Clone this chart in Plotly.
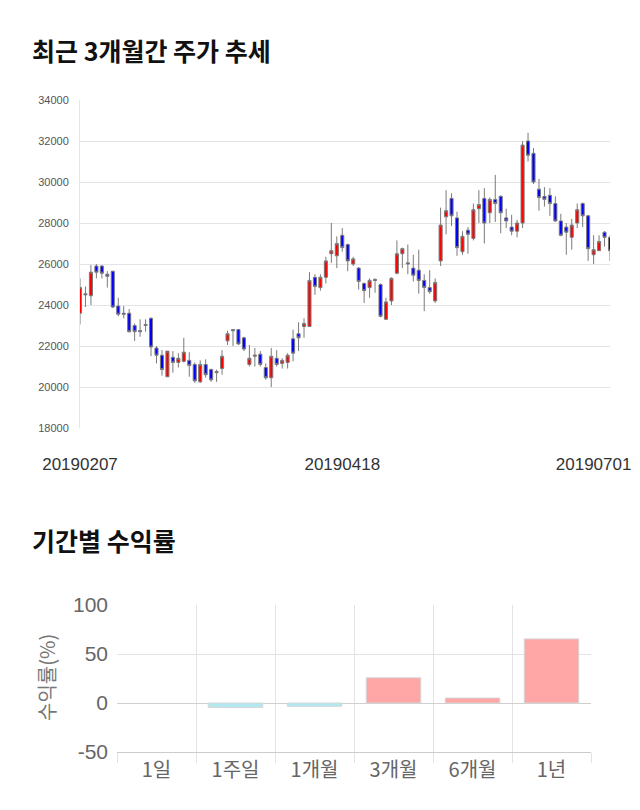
import plotly.graph_objects as go

# ---- candlestick data (trading-day index order) ----
opens = [23600, 24550, 24450, 25900, 25900, 25500, 25650, 23950, 23600, 23600,
         23000, 22750, 23050, 23350, 21900, 21550, 20500, 21450, 21200, 21250,
         21300, 21100, 20250, 21100, 20850, 20700, 20900, 22250, 22800, 22800,
         22400, 21100, 21500, 21600, 20950, 20450, 21400, 21150, 21200, 22350,
         22600, 22950, 22950, 25350, 24850, 25350, 26500, 26400, 27400, 26950,
         26000, 25800, 25050, 24850, 25250, 25000, 23300, 24200, 25550, 26500,
         26000, 25800, 25700, 25200, 24850, 24200, 26150, 28300, 29200, 28250,
         26600, 27650, 27250, 28700, 29200, 28500, 29150, 29300, 28250, 27800,
         27600, 28000, 32000, 31400, 29650, 29300, 29350, 28950, 28100, 27800,
         27300, 28000, 28950, 28350, 26450, 26650, 27550, 27300]
highs = [25300, 24900, 25950, 26000, 25950, 25650, 25650, 24350, 23950, 23800,
         23100, 23300, 23300, 23400, 22000, 21800, 21750, 21750, 21650, 22400,
         21700, 21200, 21300, 21350, 20900, 20850, 21800, 22750, 22800, 22800,
         22450, 22050, 21900, 21750, 21150, 21900, 21800, 21400, 21650, 22800,
         23150, 23350, 25600, 25500, 25500, 26350, 28000, 27350, 27750, 27000,
         26350, 25850, 25100, 25300, 25300, 25050, 24350, 25350, 27150, 26800,
         26950, 26450, 26700, 25500, 25700, 25300, 28750, 29600, 29450, 28550,
         27600, 27800, 28950, 29600, 29700, 29250, 30350, 29350, 28700, 28400,
         28150, 32000, 32400, 31650, 30150, 29750, 29700, 29300, 28450, 28000,
         28200, 28950, 29000, 28400, 27400, 27400, 27600, 27400]
lows = [23050, 23900, 24000, 25300, 25300, 24850, 23850, 23450, 23350, 22650,
        22250, 22450, 22700, 21500, 21150, 20550, 20500, 20700, 20950, 21200,
        20500, 20200, 20200, 20450, 20250, 20250, 20600, 22050, 22000, 22050,
        21750, 21000, 21000, 21000, 20350, 20000, 21000, 20900, 20900, 21250,
        21750, 22400, 22950, 24500, 24700, 25050, 26050, 25800, 26600, 25650,
        25900, 24750, 24100, 24350, 24600, 23400, 23300, 24000, 25500, 25800,
        25500, 25150, 24550, 23700, 24550, 24100, 25900, 27450, 27850, 26400,
        26450, 26500, 27150, 28000, 27000, 28000, 28050, 27500, 27750, 27400,
        27300, 27750, 31000, 29900, 28600, 28800, 28350, 28050, 27350, 26450,
        26700, 27750, 27800, 26150, 26000, 26650, 26850, 26150]
closes = [24850, 24500, 25600, 25600, 25550, 25400, 23900, 23550, 23550, 22700,
          22700, 22700, 23000, 21950, 21550, 20850, 21750, 21200, 21400, 21700,
          21050, 20300, 21100, 20600, 20350, 20750, 21500, 22600, 22750, 22100,
          21850, 21400, 21550, 21100, 20450, 21500, 21100, 21300, 21550, 21650,
          22400, 23100, 25200, 24900, 25350, 26150, 26650, 27000, 26800, 26150,
          26250, 25150, 24700, 25200, 25200, 23450, 24150, 25300, 26500, 26750,
          26050, 25450, 25200, 24850, 24650, 25100, 27900, 28600, 28350, 26800,
          27350, 27450, 28650, 28900, 28000, 29150, 28950, 28500, 28100, 27600,
          28000, 31800, 31300, 30000, 29250, 29150, 28950, 28100, 27400, 27550,
          27900, 28650, 28350, 26750, 26700, 27100, 27300, 26650]
day_index = list(range(len(opens)))
date_tick_index = [0, 48, 94]
date_tick_labels = ["20190207", "20190418", "20190701"]
price_ticks = [18000, 20000, 22000, 24000, 26000, 28000, 30000, 32000, 34000]

# ---- period returns ----
periods = ["1일", "1주일", "1개월", "3개월", "6개월", "1년"]
returns = [0.0, -4.5, -3.4, 25.7, 5.1, 65.4]
return_ticks = [-50, 0, 50, 100]
return_tick_labels = ["-50", "0", "50", "100"]

bar_colors = ["#FFA6A6" if v >= 0 else "#B2E9F1" for v in returns]
bar_edges = ["rgba(0,0,0,0)" if v == 0 else "#d6d6d6" for v in returns]

W, H = 640, 810
def px_x(p):
    return p / W
def px_y(p):
    return 1 - p / H

fig = go.Figure()
fig.add_trace(go.Candlestick(
    x=day_index, open=opens, high=highs, low=lows, close=closes,
    xaxis="x", yaxis="y",
    increasing=dict(fillcolor="#FF0000", line=dict(color="#7a7a7a", width=1)),
    decreasing=dict(fillcolor="#0000FF", line=dict(color="#7a7a7a", width=1)),
    whiskerwidth=0, showlegend=False, hoverinfo="skip",
))
fig.add_trace(go.Bar(
    x=periods, y=returns, xaxis="x2", yaxis="y2",
    marker=dict(color=bar_colors, line=dict(color=bar_edges, width=1)),
    width=0.69, showlegend=False, hoverinfo="skip",
))

base_font = "Liberation Sans, Arial, Noto Sans CJK KR, sans-serif"
kr_font = "Noto Sans CJK KR, sans-serif"
fig.update_layout(
    width=W, height=H,
    margin=dict(l=0, r=0, t=0, b=0, pad=0, autoexpand=False),
    paper_bgcolor="white", plot_bgcolor="white",
    font=dict(family=base_font),
    boxgap=0.2,
    xaxis=dict(
        domain=[px_x(80), px_x(610)], range=[0, len(opens) - 1],
        tickmode="array", tickvals=date_tick_index, ticktext=date_tick_labels,
        showgrid=False, zeroline=False, showline=False, ticks="",
        tickfont=dict(size=17, color="#333333"), ticklabelstandoff=24,
        rangeslider=dict(visible=False), anchor="y", fixedrange=True,
        automargin=False,
    ),
    yaxis=dict(
        domain=[px_y(428), px_y(100)], range=[18000, 34000],
        tickmode="array", tickvals=price_ticks, tickformat="d",
        showgrid=True, gridcolor="#e3e3e3", gridwidth=1, zeroline=False,
        showline=True, linecolor="#e6e6e6", linewidth=1,
        tickfont=dict(size=11, color="#555555"), ticklabelstandoff=8,
        anchor="x", fixedrange=True, automargin=False,
    ),
    xaxis2=dict(
        domain=[px_x(117), px_x(591)], type="category", range=[-0.5, 5.5],
        tickson="boundaries", showgrid=True, gridcolor="#e3e3e3",
        ticks="outside", ticklen=10, tickcolor="#e3e3e3",
        showline=True, linecolor="#cccccc",
        tickfont=dict(size=20, color="#666666", family=kr_font),
        anchor="y2", fixedrange=True, automargin=False,
    ),
    yaxis2=dict(
        domain=[px_y(752), px_y(605)], range=[-50, 100],
        tickmode="array", tickvals=return_ticks, ticktext=return_tick_labels,
        showgrid=True, gridcolor="#e3e3e3", zeroline=True, zerolinecolor="#cfcfcf",
        zerolinewidth=1, tickfont=dict(size=21, color="#666666"), ticklabelstandoff=8,
        anchor="x2", fixedrange=True, automargin=False,
    ),
    annotations=[
        dict(text="<b>최근 3개월간 주가 추세</b>", xref="paper", yref="paper",
             x=px_x(30), y=px_y(50), xanchor="left", yanchor="middle", showarrow=False,
             font=dict(size=25, color="#111111", family=kr_font)),
        dict(text="<b>기간별 수익률</b>", xref="paper", yref="paper",
             x=px_x(30), y=px_y(540), xanchor="left", yanchor="middle", showarrow=False,
             font=dict(size=25, color="#111111", family=kr_font)),
        dict(text="수익률(%)", xref="paper", yref="paper", textangle=-90,
             x=px_x(46), y=px_y(678), xanchor="center", yanchor="middle", showarrow=False,
             font=dict(size=20, color="#777777", family=kr_font)),
    ],
)

fig.write_html("out.html")
